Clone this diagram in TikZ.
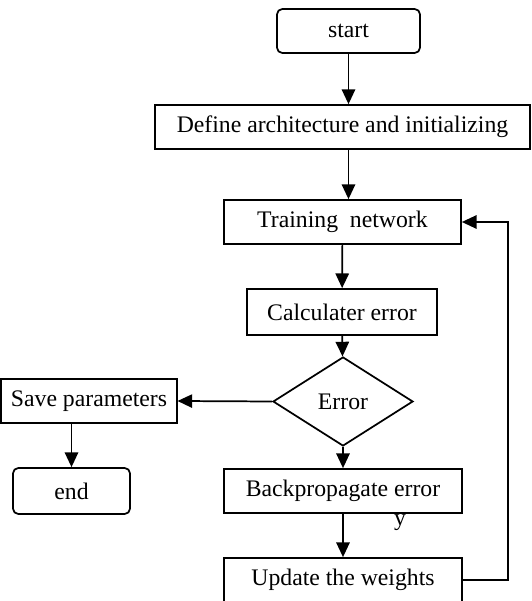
\documentclass[tikz,border=0pt]{standalone}
\usepackage{fontspec}
\setmainfont{Liberation Serif}
\usetikzlibrary{shapes.geometric,arrows.meta,positioning,calc}

\begin{document}
\begin{tikzpicture}[
    x=0.75pt, y=0.75pt,
    every node/.style={font=\fontsize{17.8}{20}\selectfont},
    process/.style={rectangle, draw, line width=1.3pt, minimum height=33pt, inner sep=0pt, align=center},
    terminal/.style={process, rounded corners=4pt},
    decision/.style={diamond, draw, line width=1.3pt, minimum width=105pt, minimum height=66.75pt, inner sep=0pt},
    arrow/.style={-{Triangle[length=11pt,width=10pt]}, line width=1.3pt}
]
    \useasboundingbox (0,0) rectangle (532,601);

    \node[terminal, minimum width=107.25pt] (start) at (348.5,570) {start};
    \node[process, minimum width=281.25pt] (define) at (342.5,474) {Define architecture and initializing};
    \node[process, minimum width=177.75pt] (train) at (342.5,379) {Training\ \ network};
    \node[process, minimum width=142.5pt, minimum height=34.5pt] (calc) at (342,289) {Calculater error};
    \node[decision] (error) at (343,199.5) {Error};
    \node[process, minimum width=131.5pt] (save) at (89,200) {Save parameters};
    \node[terminal, minimum width=87.75pt, minimum height=34.5pt] (end) at (71.5,110) {end};
    \node[process, minimum width=178.5pt] (backprop) at (343,110) {Backpropagate error};
    \node[process, minimum width=178.5pt] (update) at (343,21) {Update the weights};
    \node (ylabel) at (400,78) {y};
    \coordinate (loop) at (508,0);

    \draw[arrow] (start.south) -- (start.south |- define.north);
    \draw[arrow] (define.south -| start.south) -- (start.south |- train.north);
    \draw[arrow] (train) -- (calc);
    \draw[arrow] (calc) -- (error);
    \draw[arrow] (error.west) -- (save.east);
    \draw[arrow] (save.south -| end) -- (end);
    \draw[arrow] (error) -- (backprop);
    \draw[arrow] (backprop) -- (update);
    \draw[arrow] (update.east) -- (update.east -| loop) |- (train.east);
\end{tikzpicture}
\end{document}
